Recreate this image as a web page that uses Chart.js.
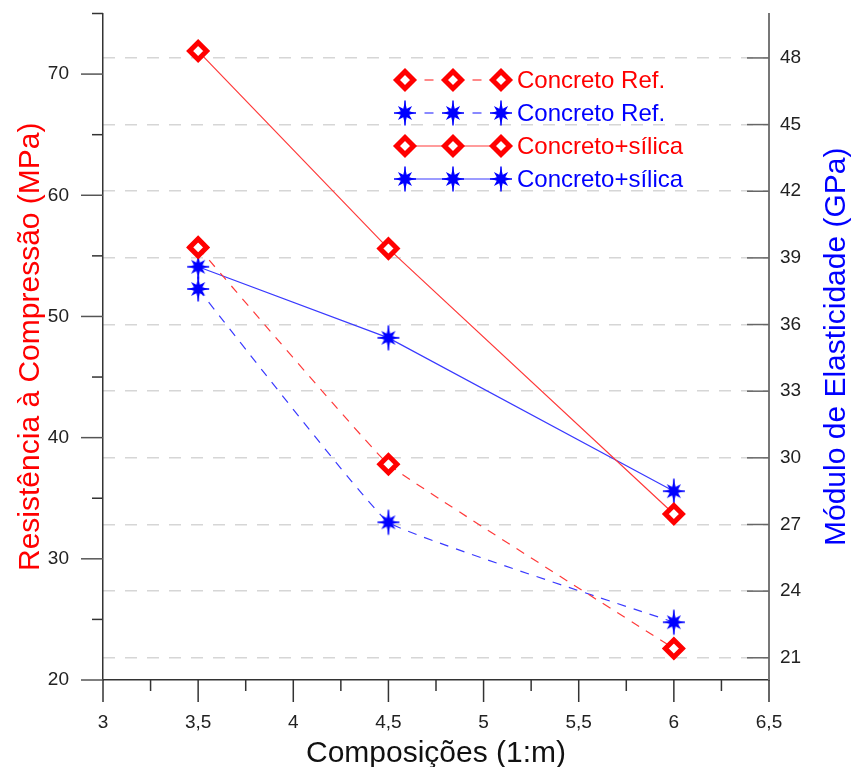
<!DOCTYPE html>
<html>
<head>
<meta charset="utf-8">
<script src="https://cdn.jsdelivr.net/npm/chart.js@4.4.0/dist/chart.umd.min.js"></script>
<style>
  html, body { margin: 0; padding: 0; background: #fff; }
  #wrap { width: 853px; height: 767px; }
</style>
</head>
<body>
<div id="wrap"><canvas id="chart"></canvas></div>
<script>
// Composições (1:m)
const composicoes = [3.5, 4.5, 6];

// Resistência à compressão (MPa) - eixo esquerdo
const resistRef = [55.7, 37.8, 22.6];
const resistSilica = [71.9, 55.6, 33.7];

// Módulo de elasticidade (GPa) - eixo direito
const moduloRef = [37.6, 27.1, 22.6];
const moduloSilica = [38.6, 35.4, 28.5];

// Ticks
const xTicks = [3, 3.5, 4, 4.5, 5, 5.5, 6, 6.5];
const xMinor = [3.25, 3.75, 4.25, 4.75, 5.25, 5.75, 6.25];
const leftTicks = [20, 30, 40, 50, 60, 70];
const leftMinor = [25, 35, 45, 55, 65, 75];
const rightTicks = [21, 24, 27, 30, 33, 36, 39, 42, 45, 48];

const FONT = '"Liberation Sans", Arial, sans-serif';
const RED = '#ff0000';
const BLUE = '#0000ff';

// star marker (filled 8 point star)
function makeStar(color) {
    const c = document.createElement('canvas');
    c.width = 28;
    c.height = 28;
    const g = c.getContext('2d');
    g.translate(14, 14);
    g.fillStyle = color;
    g.strokeStyle = color;
    g.beginPath();
    for (let i = 0; i < 16; i++) {
        const a = i * Math.PI / 8 - Math.PI / 2;
        let r = 4.6;
        if (i % 2 === 0) r = (i % 8 === 0) ? 11.5 : 10;
        const px = Math.cos(a) * r, py = Math.sin(a) * r;
        if (i === 0) g.moveTo(px, py); else g.lineTo(px, py);
    }
    g.closePath();
    g.fill();
    g.lineWidth = 1.5;
    g.beginPath();
    g.moveTo(0, -12.5); g.lineTo(0, 12.5);
    g.moveTo(-11, 0); g.lineTo(11, 0);
    g.stroke();
    return c;
}
const starBlue = makeStar(BLUE);

function pts(ys) {
    return composicoes.map((x, i) => ({ x: x, y: ys[i] }));
}

const diamond = {
    pointStyle: 'rectRot',
    pointRadius: 8.5,
    pointHoverRadius: 8.5,
    pointBorderWidth: 5,
    pointBorderColor: RED,
    pointBackgroundColor: '#fff'
};
const star = {
    pointStyle: starBlue,
    pointRadius: 12,
    pointHoverRadius: 12
};

const datasets = [
    Object.assign({
        label: 'Concreto Ref.',
        data: pts(resistRef),
        yAxisID: 'y',
        borderColor: '#ff3a3a',
        borderWidth: 1.2,
        borderDash: [9, 8],
        tension: 0.08
    }, diamond),
    Object.assign({
        label: 'Concreto Ref.',
        data: pts(moduloRef),
        yAxisID: 'yRight',
        borderColor: '#3a3aff',
        borderWidth: 1.2,
        borderDash: [9, 8],
        tension: 0.08
    }, star),
    Object.assign({
        label: 'Concreto+sílica',
        data: pts(resistSilica),
        yAxisID: 'y',
        borderColor: '#ff3a3a',
        borderWidth: 1.2,
        tension: 0
    }, diamond),
    Object.assign({
        label: 'Concreto+sílica',
        data: pts(moduloSilica),
        yAxisID: 'yRight',
        borderColor: '#3a3aff',
        borderWidth: 1.2,
        tension: 0
    }, star)
];

// ticks drawn by hand: outward on left/bottom, inward on right
const axisTicks = {
    id: 'axisTicks',
    afterDraw(chart) {
        const ctx = chart.ctx;
        const { x, y, yRight } = chart.scales;
        const line = (x1, y1, x2, y2) => {
            ctx.beginPath();
            ctx.moveTo(x1, y1);
            ctx.lineTo(x2, y2);
            ctx.stroke();
        };
        ctx.save();
        ctx.lineWidth = 1.5;
        ctx.strokeStyle = '#333';
        xTicks.forEach(v => { const p = x.getPixelForValue(v); line(p, x.top, p, x.top + 22); });
        xMinor.forEach(v => { const p = x.getPixelForValue(v); line(p, x.top, p, x.top + 11); });
        ctx.strokeStyle = '#555';
        leftTicks.forEach(v => { const p = y.getPixelForValue(v); line(y.right - 22, p, y.right, p); });
        ctx.strokeStyle = '#333';
        leftMinor.forEach(v => { const p = y.getPixelForValue(v); line(y.right - 11, p, y.right, p); });
        ctx.strokeStyle = '#666';
        rightTicks.forEach(v => { const p = yRight.getPixelForValue(v); line(yRight.left - 22, p, yRight.left, p); });
        ctx.restore();
    }
};

// axis titles
const axisTitles = {
    id: 'axisTitles',
    afterDraw(chart) {
        const ctx = chart.ctx;
        const area = chart.chartArea;
        const cy = (area.top + area.bottom) / 2;
        ctx.save();
        ctx.font = '30px ' + FONT;
        ctx.textAlign = 'center';
        ctx.fillStyle = '#111';
        ctx.textBaseline = 'alphabetic';
        ctx.fillText('Composições (1:m)', (area.left + area.right) / 2, 762);

        ctx.textBaseline = 'middle';
        ctx.save();
        ctx.translate(31, cy);
        ctx.rotate(-Math.PI / 2);
        ctx.fillStyle = RED;
        ctx.fillText('Resistência à Compressão (MPa)', 0, 0);
        ctx.restore();

        ctx.save();
        ctx.translate(837, cy);
        ctx.rotate(-Math.PI / 2);
        ctx.fillStyle = BLUE;
        ctx.fillText('Módulo de Elasticidade (GPa)', 0, 0);
        ctx.restore();
        ctx.restore();
    }
};

// legend inside the plot: marker - line - marker - line - marker, label
const innerLegend = {
    id: 'innerLegend',
    afterDatasetsDraw(chart) {
        const ctx = chart.ctx;
        const rows = [80, 113, 146, 179];
        const mx = [405, 453, 501];
        ctx.save();
        chart.data.datasets.forEach((ds, i) => {
            const ry = rows[i];
            const color = ds.yAxisID === 'y' ? RED : BLUE;
            ctx.strokeStyle = ds.borderColor;
            ctx.lineWidth = ds.borderWidth;
            if (ds.borderDash) {
                for (let k = 0; k < 2; k++) {
                    const mid = (mx[k] + mx[k + 1]) / 2;
                    ctx.beginPath();
                    ctx.moveTo(mid - 4.5, ry);
                    ctx.lineTo(mid + 4.5, ry);
                    ctx.stroke();
                }
            } else {
                ctx.beginPath();
                ctx.moveTo(mx[0], ry);
                ctx.lineTo(mx[2], ry);
                ctx.stroke();
            }
            mx.forEach(px => {
                ctx.fillStyle = ds.pointBackgroundColor || color;
                ctx.strokeStyle = ds.pointBorderColor || color;
                ctx.lineWidth = ds.pointBorderWidth || 0;
                Chart.helpers.drawPoint(ctx, {
                    pointStyle: ds.pointStyle,
                    radius: ds.pointRadius,
                    borderWidth: ds.pointBorderWidth || 0,
                    rotation: 0
                }, px, ry);
            });
            ctx.fillStyle = color;
            ctx.font = '24px ' + FONT;
            ctx.textAlign = 'left';
            ctx.textBaseline = 'middle';
            ctx.fillText(ds.label, 517, ry + 1);
        });
        ctx.restore();
    }
};

const tickFont = { family: FONT, size: 19 };

// stop tick padding from pushing the plot area in
function noPad(s) {
    s.paddingTop = 0;
    s.paddingBottom = 0;
    s.paddingLeft = 0;
    s.paddingRight = 0;
}

new Chart(document.getElementById('chart'), {
    type: 'line',
    data: { datasets: datasets },
    options: {
        responsive: true,
        maintainAspectRatio: false,
        animation: false,
        layout: { padding: { top: 12, left: 0, right: 0, bottom: 0 } },
        plugins: {
            legend: { display: false },
            tooltip: { enabled: false }
        },
        scales: {
            x: {
                type: 'linear',
                min: 3,
                max: 6.5,
                afterBuildTicks: s => { s.ticks = xTicks.map(v => ({ value: v })); },
                afterFit: s => { s.height = 87; noPad(s); },
                grid: { display: false, drawTicks: false },
                border: { display: true, color: '#333', width: 1.5 },
                ticks: {
                    padding: 31,
                    color: '#222',
                    font: tickFont,
                    maxRotation: 0,
                    autoSkip: false,
                    callback: v => String(v).replace('.', ',')
                }
            },
            y: {
                position: 'left',
                min: 20,
                max: 75,
                afterBuildTicks: s => { s.ticks = leftTicks.map(v => ({ value: v })); },
                afterFit: s => { s.width = 103; noPad(s); },
                grid: { display: false, drawTicks: false },
                border: { display: true, color: '#333', width: 1.5 },
                ticks: { padding: 34, color: '#222', font: tickFont }
            },
            yRight: {
                position: 'right',
                min: 20,
                max: 50,
                afterBuildTicks: s => { s.ticks = rightTicks.map(v => ({ value: v })); },
                afterFit: s => { s.width = 84; noPad(s); },
                grid: { display: true, drawOnChartArea: true, drawTicks: false, color: '#d6d6d6', lineWidth: 1.5 },
                border: { display: true, color: '#777', width: 2, dash: [12, 10] },
                ticks: { padding: 11, color: '#222', font: tickFont }
            }
        }
    },
    plugins: [axisTicks, axisTitles, innerLegend]
});
</script>
</body>
</html>
